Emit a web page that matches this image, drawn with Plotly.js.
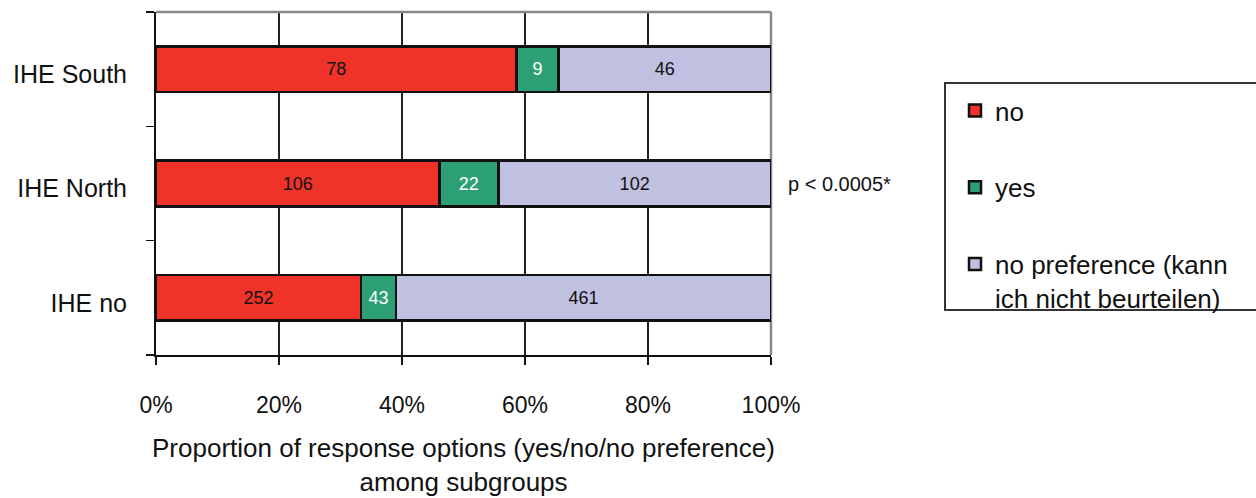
<!DOCTYPE html>
<html>
<head>
<meta charset="utf-8">
<script src="https://cdn.plot.ly/plotly-3.0.1.min.js"></script>
<style>
  html, body { margin: 0; padding: 0; background: #fff; }
  #chart { width: 1256px; height: 498px; }
</style>
</head>
<body>
<div id="chart"></div>
<script>
// Data
const categories = ['IHE no', 'IHE North', 'IHE South'];
const seriesNames = ['no', 'yes', 'no preference (kann<br>ich nicht beurteilen)'];
const noValues = [252, 106, 78];
const yesValues = [43, 22, 9];
const noPrefValues = [461, 102, 46];
const xTickValues = [0, 20, 40, 60, 80, 100];
const xTickLabels = ['0%', '20%', '40%', '60%', '80%', '100%'];
const pValueText = 'p < 0.0005*';

const FONT = '"Liberation Sans", Arial, sans-serif';
const colors = ['#EF3329', '#2CA074', '#C0C0E0'];
const textColors = ['#111111', '#ffffff', '#111111'];
const seriesValues = [noValues, yesValues, noPrefValues];

const traces = seriesValues.map((vals, i) => ({
  type: 'bar',
  orientation: 'h',
  name: seriesNames[i],
  legendgroup: 'g' + i,
  y: categories,
  x: vals,
  text: vals.map(String),
  textposition: 'inside',
  insidetextanchor: 'middle',
  constraintext: 'none',
  textangle: 0,
  textfont: { family: FONT, size: 18, color: textColors[i] },
  marker: { color: colors[i], line: { color: '#111111', width: 2.5 } },
  hoverinfo: 'skip'
}));

// legend frame geometry (paper units)
const legX0 = (945 - 156) / 615, legX1 = (1262 - 156) / 615;
const legY1 = (355 - 83) / 343, legY0 = (355 - 310) / 343;

const layout = {
  width: 1256,
  height: 498,
  margin: { l: 156, r: 485, t: 12, b: 143 },
  paper_bgcolor: '#ffffff',
  plot_bgcolor: '#ffffff',
  barmode: 'stack',
  barnorm: 'percent',
  bargap: 0.6,
  font: { family: FONT, size: 24, color: '#111111' },
  showlegend: true,
  legend: {
    x: legX0, xanchor: 'left',
    y: legY1 - 0.012, yanchor: 'top',
    traceorder: 'grouped',
    tracegroupgap: 40,
    indentation: 10,
    valign: 'top',
    bgcolor: 'rgba(0,0,0,0)',
    borderwidth: 0,
    font: { family: FONT, size: 26, color: '#111111' },
    itemclick: false,
    itemdoubleclick: false
  },
  xaxis: {
    range: [0, 100],
    tickmode: 'array',
    tickvals: xTickValues,
    ticktext: xTickLabels,
    ticks: 'outside',
    ticklen: 8,
    tickcolor: '#111111',
    tickwidth: 1.5,
    ticklabelstandoff: 20,
    tickfont: { family: FONT, size: 23, color: '#111111' },
    showgrid: true,
    gridcolor: '#222222',
    gridwidth: 1.5,
    zeroline: false,
    showline: true,
    linecolor: '#111111',
    linewidth: 2,
    fixedrange: true,
    title: {
      text: 'Proportion of response options (yes/no/no preference)<br>among subgroups',
      font: { family: FONT, size: 26, color: '#111111' },
      standoff: 22
    }
  },
  yaxis: {
    type: 'category',
    categoryorder: 'array',
    categoryarray: categories,
    range: [-0.5, 2.5],
    ticks: 'outside',
    tickson: 'boundaries',
    ticklen: 8,
    tickcolor: '#111111',
    tickwidth: 1.5,
    ticklabelstandoff: 22,
    ticklabelshift: 5,
    tickfont: { family: FONT, size: 25, color: '#111111' },
    showgrid: false,
    zeroline: false,
    showline: true,
    linecolor: '#111111',
    linewidth: 2,
    fixedrange: true
  },
  shapes: [
    { type: 'line', xref: 'paper', yref: 'paper', x0: 0, x1: 1, y0: 1, y1: 1,
      line: { color: '#888888', width: 2.5 }, layer: 'above' },
    { type: 'line', xref: 'paper', yref: 'paper', x0: 1, x1: 1, y0: 0, y1: 1,
      line: { color: '#888888', width: 2.5 }, layer: 'below' },
    { type: 'rect', xref: 'paper', yref: 'paper', x0: legX0, x1: legX1, y0: legY0, y1: legY1,
      line: { color: '#333333', width: 2 }, fillcolor: 'rgba(0,0,0,0)', layer: 'above' }
  ],
  annotations: [
    { xref: 'paper', yref: 'y', x: 1.024, y: 'IHE North', xanchor: 'left', yanchor: 'middle',
      text: pValueText, showarrow: false,
      font: { family: FONT, size: 20, color: '#111111' } }
  ]
};

Plotly.newPlot('chart', traces, layout, { displayModeBar: false, staticPlot: true });
</script>
</body>
</html>
